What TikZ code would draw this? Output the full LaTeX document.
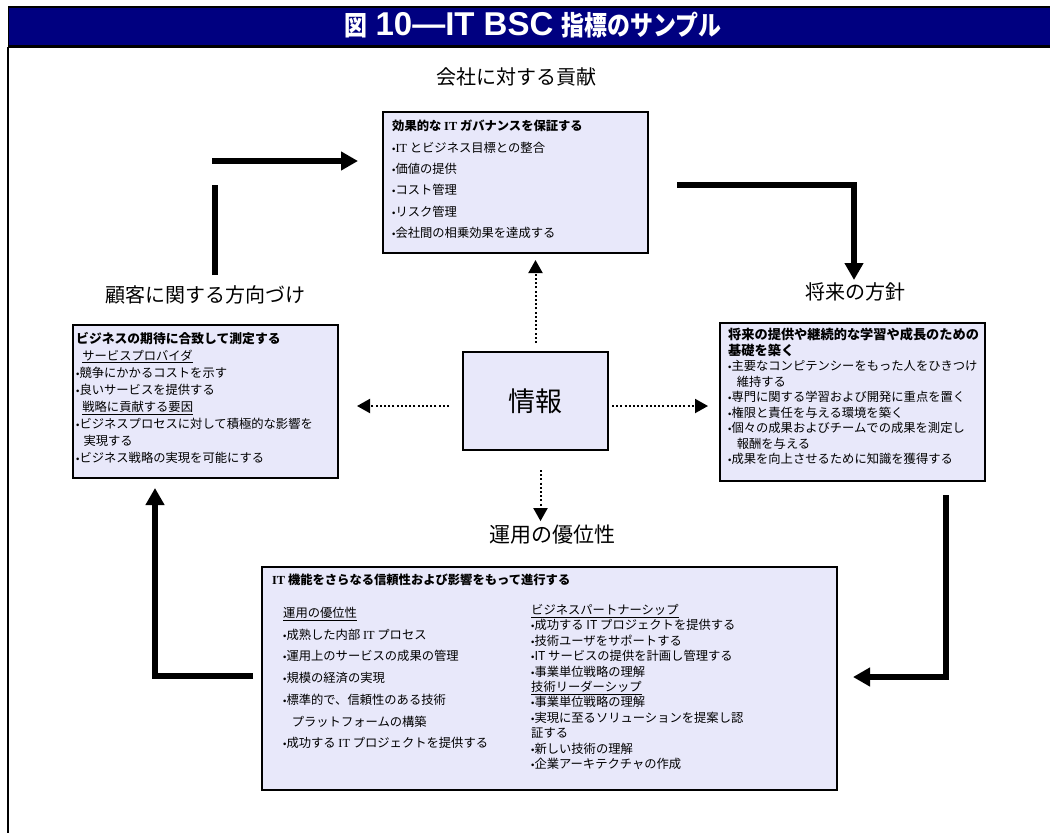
\documentclass[tikz,border=0pt]{standalone}
\usepackage{fontspec}
\usepackage{graphicx}
\setmainfont{Noto Sans CJK JP}
\newfontfamily\ser{Liberation Serif}
\newfontfamily\lsans{Liberation Sans}
\usetikzlibrary{arrows.meta}
\definecolor{navy}{RGB}{0,0,128}
\definecolor{boxfill}{RGB}{232,232,250}
\newcommand{\bu}{{\lsans\fontsize{9.5}{9.5}\selectfont •}}
\newcommand{\sit}{{\ser IT}}
\newcommand{\bsit}{{\ser\bfseries IT}}
\tikzset{
  box/.style={draw=black, fill=boxfill, line width=1.3pt, anchor=north west, inner sep=0pt, outer sep=0pt},
  txt/.style={anchor=north west, inner sep=0pt, align=left},
  lbl/.style={font=\fontsize{20}{24}\selectfont, inner sep=0pt},
  thickarrow/.style={line width=6pt, line join=miter, -{Triangle[length=17pt,width=18pt]}},
  thickline/.style={line width=6pt},
  dotarrow/.style={line width=2pt, dash pattern=on 2pt off 2.2pt, -{Triangle[length=13pt,width=14pt]}},
}
\begin{document}
\begin{tikzpicture}[x=1pt,y=-1pt]
\useasboundingbox (0,0) rectangle (1050,833);
% frame and title
\node[fill=navy, draw=black, line width=1.5pt, anchor=north west, minimum width=1043pt, minimum height=39pt, inner sep=0pt] (bar) at (7.5,6) {};
\draw[line width=3pt] (bar.south west) -- (bar.south east);
\node[text=white, inner sep=0pt] (title) at (533,25) {\scalebox{0.85}[1]{\bfseries\fontsize{27}{30}\selectfont 図}\hspace{8pt}{\lsans\bfseries\fontsize{33}{36}\selectfont 10—IT BSC}\hspace{8pt}\scalebox{0.85}[1]{\bfseries\fontsize{27}{30}\selectfont 指標のサンプル}};
\coordinate (fb) at (7.5,833);
\draw[line width=2pt] (bar.south west) -- (fb);

% labels
\node[lbl] (l1) at (516,77) {会社に対する貢献};
\node[lbl] (l2) at (205,295) {顧客に関する方向づけ};
\node[lbl] (l3) at (855,292) {将来の方針};
\node[lbl, font=\fontsize{21}{24}\selectfont] (l4) at (552,535) {運用の優位性};

% top box
\node[box, minimum width=265pt, minimum height=141pt] (top) at (383,112) {};
\node[txt, font=\fontsize{12.3}{21.4}\selectfont] (topt) at (392,120) {%
{\bfseries 効果的な \bsit\ ガバナンスを保証する}\\
\bu\sit\ とビジネス目標との整合\\
\bu 価値の提供\\
\bu コスト管理\\
\bu リスク管理\\
\bu 会社間の相乗効果を達成する};

% left box
\node[box, minimum width=265pt, minimum height=153pt] (left) at (73,325) {};
\node[txt, font=\fontsize{12.3}{17}\selectfont] (leftt) at (76,332) {%
{\bfseries\fontsize{12.8}{17}\selectfont ビジネスの期待に合致して測定する}\\
\hspace{0.5em}\underline{サービスプロバイダ}\\
\bu 競争にかかるコストを示す\\
\bu 良いサービスを提供する\\
\hspace{0.5em}\underline{戦略に貢献する要因}\\
\bu ビジネスプロセスに対して積極的な影響を\\
\hspace{0.6em}実現する\\
\bu ビジネス戦略の実現を可能にする};

% right box
\node[box, minimum width=265pt, minimum height=158pt] (right) at (720,323) {};
\node[txt, font=\fontsize{12.3}{15.5}\selectfont] (rightt) at (728,328) {%
{\bfseries\fontsize{13.2}{14}\selectfont 将来の提供や継続的な学習や成長のための}\\
{\bfseries\fontsize{13.2}{14}\selectfont 基礎を築く}\\
\bu 主要なコンピテンシーをもった人をひきつけ\\
\hspace{0.7em}維持する\\
\bu 専門に関する学習および開発に重点を置く\\
\bu 権限と責任を与える環境を築く\\
\bu 個々の成果およびチームでの成果を測定し\\
\hspace{0.7em}報酬を与える\\
\bu 成果を向上させるために知識を獲得する};

% info box
\node[box, minimum width=145pt, minimum height=98pt, font=\fontsize{27}{30}\selectfont] (info) at (463,352) {情報};

% bottom box
\node[box, minimum width=575pt, minimum height=223pt] (bot) at (262,567) {};
\node[txt, font=\bfseries\fontsize{12.3}{15}\selectfont] (bott) at (272,574) {\bsit\ 機能をさらなる信頼性および影響をもって進行する};
\node[txt, font=\fontsize{12.3}{21.7}\selectfont] (botl) at (283,607) {%
\underline{運用の優位性}\\
\bu 成熟した内部 \sit\ プロセス\\
\bu 運用上のサービスの成果の管理\\
\bu 規模の経済の実現\\
\bu 標準的で、信頼性のある技術\\
\hspace{0.7em}プラットフォームの構築\\
\bu 成功する \sit\ プロジェクトを提供する};
\node[txt, font=\fontsize{12.3}{15.4}\selectfont] (botr) at (531,604) {%
\underline{ビジネスパートナーシップ}\\
\bu 成功する IT プロジェクトを提供する\\
\bu 技術ユーザをサポートする\\
\bu IT サービスの提供を計画し管理する\\
\bu 事業単位戦略の理解\\
\underline{技術リーダーシップ}\\
\bu 事業単位戦略の理解\\
\bu 実現に至るソリューションを提案し認\\
証する\\
\bu 新しい技術の理解\\
\bu 企業アーキテクチャの作成};

% thick arrows
\coordinate (a1s) at (215,275); \coordinate (a1e) at (215,185);
\draw[thickline] (a1s) -- (a1e);
\coordinate (a2s) at (212,161); \coordinate (a2e) at (358,161);
\draw[thickarrow] (a2s) -- (a2e);
\coordinate (a3s) at (677,185); \coordinate (a3c) at (854,185); \coordinate (a3e) at (854,280);
\draw[thickarrow] (a3s) -- (a3c) -- (a3e);
\coordinate (a4s) at (946,495); \coordinate (a4c) at (946,677); \coordinate (a4e) at (853,677);
\draw[thickarrow] (a4s) -- (a4c) -- (a4e);
\coordinate (a5s) at (253,676); \coordinate (a5c) at (155,676); \coordinate (a5e) at (155,488);
\draw[thickarrow] (a5s) -- (a5c) -- (a5e);

% dotted arrows
\draw[dotarrow, shorten <=9pt, shorten >=7pt] (info.north) -- (info.north |- top.south);
\draw[dotarrow, shorten <=14pt, shorten >=19pt] ([yshift=-5pt]info.west) -- ([yshift=-5pt]info.west -| left.east);
\draw[dotarrow, shorten <=4pt, shorten >=12pt] ([yshift=-5pt]info.east) -- ([yshift=-5pt]info.east -| right.west);
\draw[dotarrow, shorten <=20pt, shorten >=4pt] ([xshift=5pt]info.south) -- ([xshift=5pt]info.south |- l4.north);
\end{tikzpicture}
\end{document}
